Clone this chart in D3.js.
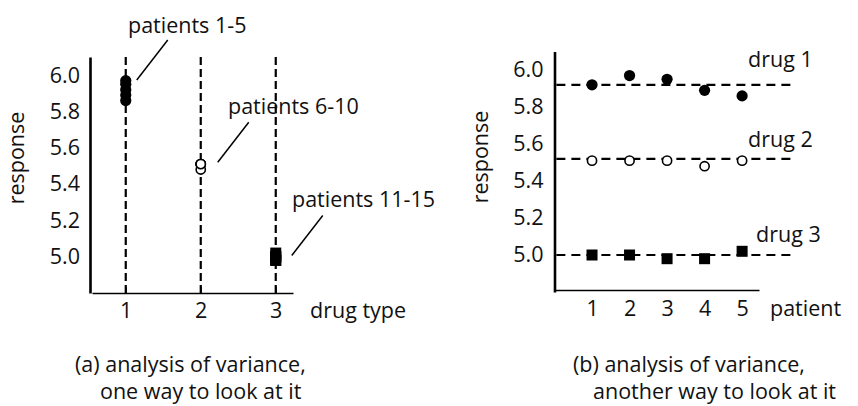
<!DOCTYPE html>
<html lang="en">
<head>
    <meta charset="UTF-8">
    <title>Analysis of variance</title>
    <script src="https://d3js.org/d3.v7.min.js"></script>
    <style>
        body {
            margin: 0;
            background: #fff;
        }
        svg text {
            font-family: "Open Sans", sans-serif;
            font-size: 21.5px;
            fill: #111;
        }
        .dash {
            stroke: #000;
            stroke-width: 2.2;
            fill: none;
        }
        .leader {
            stroke: #000;
            stroke-width: 1.5;
        }
    </style>
</head>
<body>
    <div id="chart"></div>
    <script>
        // values
        const drugTypes = [1, 2, 3];
        const patients = [1, 2, 3, 4, 5];
        const drug1 = [5.92, 5.97, 5.95, 5.89, 5.86];
        const drug2 = [5.51, 5.51, 5.51, 5.48, 5.51];
        const drug3 = [5.00, 5.00, 4.98, 4.98, 5.02];
        const drugLevels = [5.92, 5.52, 5.00];
        const yTicks = [5.0, 5.2, 5.4, 5.6, 5.8, 6.0];
        const groupLabels = ["patients 1-5", "patients 6-10", "patients 11-15"];
        const drugLabels = ["drug 1", "drug 2", "drug 3"];

        const series = [drug1, drug2, drug3];
        const markers = ["dot", "ring", "square"];

        const width = 858, height = 406;

        const svg = d3.select("#chart")
            .append("svg")
            .attr("width", width)
            .attr("height", height);

        const fmt = d3.format(".1f");

        function drawMarker(g, kind, cx, cy) {
            if (kind === "square") {
                g.append("rect")
                    .attr("x", cx - 5.5).attr("y", cy - 5.5)
                    .attr("width", 11).attr("height", 11)
                    .attr("fill", "#000");
            } else if (kind === "ring") {
                g.append("circle")
                    .attr("cx", cx).attr("cy", cy).attr("r", 4.6)
                    .attr("fill", "#fff")
                    .attr("stroke", "#000")
                    .attr("stroke-width", 1.6);
            } else {
                g.append("circle")
                    .attr("cx", cx).attr("cy", cy).attr("r", 5.6)
                    .attr("fill", "#000");
            }
        }

        function styleAxis(g, w) {
            g.attr("font-family", null).attr("font-size", null);
            g.select(".domain").attr("stroke-width", w);
        }

        // ---------- panel (a) ----------
        const xA = d3.scaleLinear().domain([0.55, 3.23]).range([92, 293]);
        const yA = d3.scaleLinear().domain([4.8, 6.1]).range([293, 57]);

        const gA = svg.append("g");

        gA.selectAll(".vdash")
            .data(drugTypes)
            .enter()
            .append("line")
            .attr("class", "dash")
            .attr("x1", d => xA(d)).attr("x2", d => xA(d))
            .attr("y1", yA(6.1)).attr("y2", yA(4.8))
            .attr("stroke-dasharray", "8,4");

        gA.append("g")
            .attr("transform", `translate(0,${yA(4.8)})`)
            .call(d3.axisBottom(xA).tickValues(drugTypes)
                .tickSizeInner(-6).tickSizeOuter(0).tickPadding(10)
                .tickFormat(d3.format("d")))
            .call(g => styleAxis(g, 1.6));

        gA.append("g")
            .attr("transform", `translate(${xA(0.55) - 2},0)`)
            .call(d3.axisLeft(yA).tickValues(yTicks)
                .tickSize(0).tickPadding(10).tickFormat(fmt))
            .call(g => styleAxis(g, 2.6));

        series.forEach((vals, i) => {
            vals.forEach(v => drawMarker(gA, markers[i], xA(drugTypes[i]), yA(v)));
        });

        // leader lines and group labels
        const leadA = [
            { x: 128, y: 33, dx: 11, dy: -10 },
            { x: 228, y: 114, dx: 17, dy: -3 },
            { x: 292, y: 207, dx: 16, dy: -2 }
        ];
        drugTypes.forEach((d, i) => {
            const x0 = xA(d) + leadA[i].dx;
            const y0 = yA(d3.mean(series[i])) + leadA[i].dy;
            gA.append("line")
                .attr("class", "leader")
                .attr("x1", x0).attr("y1", y0)
                .attr("x2", x0 + 31).attr("y2", y0 - 40);
            gA.append("text")
                .attr("x", leadA[i].x).attr("y", leadA[i].y)
                .text(groupLabels[i]);
        });

        gA.append("text")
            .attr("transform", "translate(24,158) rotate(-90)")
            .attr("text-anchor", "middle")
            .text("response");

        gA.append("text").attr("x", 310).attr("y", 318).text("drug type");

        gA.append("text").attr("x", 75).attr("y", 372).text("(a) analysis of variance,");
        gA.append("text").attr("x", 100).attr("y", 399).text("one way to look at it");

        // ---------- panel (b) ----------
        const xB = d3.scaleLinear().domain([0, 5.45]).range([554.5, 759]);
        const yB = d3.scaleLinear().domain([4.8, 6.1]).range([292, 51.5]);

        const gB = svg.append("g");

        gB.selectAll(".hdash")
            .data(drugLevels)
            .enter()
            .append("line")
            .attr("class", "dash")
            .attr("x1", xB(0.05)).attr("x2", 793)
            .attr("y1", d => yB(d)).attr("y2", d => yB(d))
            .attr("stroke-dasharray", "9,6");

        gB.append("g")
            .attr("transform", `translate(0,${yB(4.8) - 2})`)
            .call(d3.axisBottom(xB).tickValues(patients)
                .tickSize(0).tickPadding(11).tickFormat(d3.format("d")))
            .call(g => styleAxis(g, 1.6));

        gB.append("g")
            .attr("transform", `translate(${xB(0)},0)`)
            .call(d3.axisLeft(yB).tickValues(yTicks)
                .tickSize(0).tickPadding(11).tickFormat(fmt))
            .call(g => styleAxis(g, 2.6));

        series.forEach((vals, i) => {
            vals.forEach((v, j) => drawMarker(gB, markers[i], xB(patients[j]), yB(v)));
        });

        const labB = [{ x: 748, y: 67 }, { x: 748, y: 147 }, { x: 756, y: 242 }];
        drugLabels.forEach((t, i) => {
            gB.append("text").attr("x", labB[i].x).attr("y", labB[i].y).text(t);
        });

        gB.append("text")
            .attr("transform", "translate(488,157) rotate(-90)")
            .attr("text-anchor", "middle")
            .text("response");

        gB.append("text").attr("x", 770).attr("y", 316).text("patient");

        gB.append("text").attr("x", 573).attr("y", 372).text("(b) analysis of variance,");
        gB.append("text").attr("x", 593).attr("y", 399).text("another way to look at it");
    </script>
</body>
</html>
